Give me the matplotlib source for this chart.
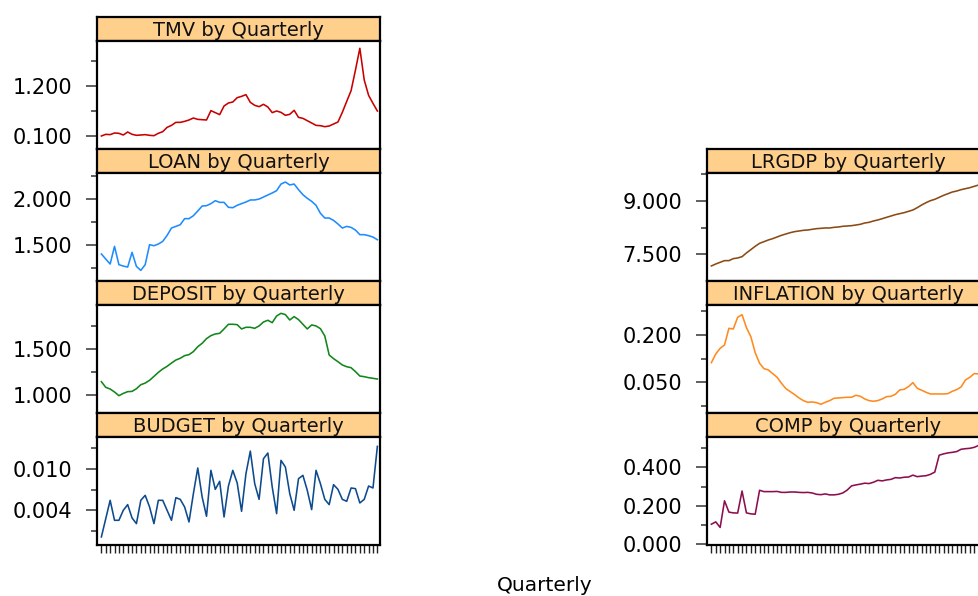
import matplotlib
matplotlib.use("Agg")
import matplotlib.pyplot as plt
import numpy as np

# ---- quarterly series (64 quarters) ----
quarters = np.arange(64)

tmv = [0.100, 0.137, 0.130, 0.166, 0.159, 0.122, 0.188, 0.137, 0.115, 0.122,
       0.130, 0.115, 0.107, 0.159, 0.195, 0.290, 0.334, 0.400, 0.400, 0.422,
       0.452, 0.496, 0.466, 0.459, 0.452, 0.658, 0.614, 0.570, 0.760, 0.826,
       0.848, 0.943, 0.972, 1.010, 0.840, 0.775, 0.745, 0.797, 0.738, 0.614,
       0.650, 0.620, 0.555, 0.577, 0.665, 0.510, 0.488, 0.437, 0.386, 0.334,
       0.327, 0.305, 0.320, 0.364, 0.408, 0.620, 0.862, 1.097, 1.552, 2.030,
       1.332, 0.994, 0.818, 0.650]

loan = [1.399, 1.344, 1.290, 1.482, 1.283, 1.268, 1.257, 1.417, 1.264, 1.221,
        1.283, 1.500, 1.489, 1.507, 1.536, 1.601, 1.681, 1.699, 1.717, 1.783,
        1.783, 1.815, 1.866, 1.920, 1.924, 1.946, 1.978, 1.960, 1.960, 1.906,
        1.902, 1.928, 1.946, 1.964, 1.986, 1.986, 1.996, 2.018, 2.040, 2.062,
        2.087, 2.159, 2.181, 2.149, 2.159, 2.098, 2.043, 2.004, 1.971, 1.928,
        1.841, 1.790, 1.790, 1.764, 1.725, 1.681, 1.699, 1.688, 1.659, 1.609,
        1.609, 1.598, 1.583, 1.554]

deposit = [1.146, 1.084, 1.066, 1.033, 0.993, 1.018, 1.037, 1.040, 1.069, 1.113,
           1.131, 1.161, 1.204, 1.248, 1.285, 1.314, 1.350, 1.383, 1.402, 1.431,
           1.442, 1.475, 1.529, 1.566, 1.617, 1.650, 1.668, 1.675, 1.723, 1.774,
           1.774, 1.770, 1.723, 1.741, 1.741, 1.730, 1.756, 1.799, 1.818, 1.792,
           1.865, 1.894, 1.880, 1.821, 1.858, 1.825, 1.774, 1.723, 1.767, 1.756,
           1.726, 1.646, 1.438, 1.398, 1.365, 1.329, 1.310, 1.299, 1.256, 1.208,
           1.201, 1.190, 1.183, 1.175]

budget = [0.00016, 0.00280, 0.00544, 0.00256, 0.00256, 0.00400, 0.00482, 0.00290,
          0.00208, 0.00544, 0.00616, 0.00448, 0.00208, 0.00544, 0.00544, 0.00400,
          0.00256, 0.00582, 0.00558, 0.00448, 0.00232, 0.00640, 0.01010, 0.00592,
          0.00314, 0.00976, 0.00702, 0.00818, 0.00304, 0.00750, 0.00976, 0.00794,
          0.00386, 0.00928, 0.01254, 0.00784, 0.00558, 0.01144, 0.01226, 0.00736,
          0.00352, 0.01120, 0.01024, 0.00640, 0.00400, 0.00856, 0.00904, 0.00688,
          0.00410, 0.00976, 0.00784, 0.00558, 0.00482, 0.00770, 0.00702, 0.00558,
          0.00530, 0.00722, 0.00712, 0.00506, 0.00558, 0.00750, 0.00722, 0.01322]

lrgdp = [7.172, 7.228, 7.275, 7.322, 7.322, 7.378, 7.397, 7.434, 7.538, 7.631,
         7.725, 7.809, 7.856, 7.903, 7.941, 7.988, 8.034, 8.072, 8.109, 8.138,
         8.156, 8.175, 8.184, 8.203, 8.222, 8.231, 8.241, 8.241, 8.259, 8.269,
         8.288, 8.297, 8.306, 8.325, 8.344, 8.381, 8.400, 8.438, 8.466, 8.503,
         8.541, 8.578, 8.616, 8.644, 8.672, 8.709, 8.747, 8.813, 8.888, 8.953,
         9.009, 9.047, 9.103, 9.159, 9.206, 9.253, 9.281, 9.319, 9.347, 9.375,
         9.413, 9.450, 9.478, 9.506]

inflation = [0.1123, 0.1398, 0.1577, 0.1683, 0.2211, 0.2190, 0.2559, 0.2644,
             0.2232, 0.1947, 0.1440, 0.1102, 0.0933, 0.0891, 0.0775, 0.0658,
             0.0468, 0.0300, 0.0204, 0.0109, 0.0004, -0.0081, -0.0134, -0.0123,
             -0.0144, -0.0197, -0.0134, -0.0081, -0.0007, 0.0004, 0.0014, 0.0025,
             0.0025, 0.0088, 0.0056, -0.0028, -0.0081, -0.0102, -0.0081, -0.0028,
             0.0046, 0.0056, 0.0120, 0.0257, 0.0278, 0.0363, 0.0490, 0.0310,
             0.0247, 0.0183, 0.0130, 0.0130, 0.0130, 0.0130, 0.0141, 0.0215,
             0.0268, 0.0352, 0.0574, 0.0658, 0.0775, 0.0764, 0.0750, 0.0720]

comp = [0.104, 0.116, 0.087, 0.226, 0.167, 0.163, 0.162, 0.277, 0.163, 0.158,
        0.156, 0.281, 0.274, 0.274, 0.274, 0.275, 0.270, 0.270, 0.272, 0.272,
        0.270, 0.269, 0.270, 0.267, 0.260, 0.258, 0.262, 0.257, 0.257, 0.260,
        0.267, 0.282, 0.304, 0.309, 0.313, 0.318, 0.316, 0.323, 0.333, 0.330,
        0.335, 0.338, 0.347, 0.345, 0.349, 0.350, 0.360, 0.352, 0.355, 0.357,
        0.364, 0.376, 0.464, 0.471, 0.476, 0.479, 0.483, 0.495, 0.498, 0.500,
        0.505, 0.515, 0.520, 0.525]

# ---- axis ticks per panel ----
tmv_major, tmv_minor = [0.1, 1.2], [0.65, 1.75]
loan_major, loan_minor = [1.5, 2.0], [1.25, 1.75, 2.25]
deposit_major, deposit_minor = [1.0, 1.5], [1.25, 1.75]
budget_major, budget_minor = [0.004, 0.010], [0.001, 0.007, 0.013]
lrgdp_major, lrgdp_minor = [7.5, 9.0], [8.25, 9.75]
inflation_major, inflation_minor = [0.05, 0.2], [-0.025, 0.125, 0.275]
comp_major, comp_minor = [0.0, 0.2, 0.4], [0.1, 0.3, 0.5]

panels = [
    # name, values, colour, column, row, ylim, major, minor
    ("TMV", tmv, "#C80000", 0, 0, (-0.175, 2.19), tmv_major, tmv_minor),
    ("LOAN", loan, "#1E8CFF", 0, 1, (1.111, 2.279), loan_major, loan_minor),
    ("DEPOSIT", deposit, "#12861A", 0, 2, (0.809, 1.985), deposit_major, deposit_minor),
    ("BUDGET", budget, "#0D4A8E", 0, 3, (-0.00093, 0.01457), budget_major, budget_minor),
    ("LRGDP", lrgdp, "#8B4A14", 1, 1, (6.763, 9.788), lrgdp_major, lrgdp_minor),
    ("INFLATION", inflation, "#FF8A1E", 1, 2, (-0.0458, 0.295), inflation_major, inflation_minor),
    ("COMP", comp, "#8B0F4E", 1, 3, (-0.002, 0.559), comp_major, comp_minor),
]

W, H = 979, 596
fig = plt.figure(figsize=(W / 100, H / 100), dpi=100)
fig.patch.set_facecolor("white")

col_left = [97, 707]
panel_w = 283
strip_h = 24
panel_h = 107.5
row_pitch = 132
first_strip_top = 17
strip_color = "#FFCF8C"


def px_axes(x0, top, w, h):
    return fig.add_axes([x0 / W, 1 - (top + h) / H, w / W, h / H])


for name, vals, color, col, row, ylim, major, minor in panels:
    x0 = col_left[col]
    strip_top = first_strip_top + row * row_pitch
    panel_top = strip_top + strip_h

    # strip with the panel title
    sax = px_axes(x0, strip_top, panel_w, strip_h)
    sax.set_facecolor(strip_color)
    sax.set_xticks([])
    sax.set_yticks([])
    for sp in sax.spines.values():
        sp.set_linewidth(1.6)
        sp.set_color("black")
    sax.text(0.5, 0.45, f"{name} by Quarterly", ha="center", va="center",
             fontsize=14, color="#111111", transform=sax.transAxes)

    # data panel
    ax = px_axes(x0, panel_top, panel_w, panel_h)
    ax.plot(quarters, vals, color=color, linewidth=1.15)
    ax.set_xlim(-1.0, 63.6)
    ax.set_ylim(*ylim)
    for sp in ax.spines.values():
        sp.set_linewidth(1.6)
        sp.set_color("black")

    ax.set_yticks(major)
    ax.set_yticklabels([f"{v:.3f}" for v in major])
    ax.set_yticks(minor, minor=True)
    ax.tick_params(axis="y", which="major", length=8, width=1.2, color="#444444",
                   pad=10, labelsize=15)
    ax.tick_params(axis="y", which="minor", length=4.5, width=1.2, color="#444444")

    if row == 3:
        ax.set_xticks(quarters)
        ax.set_xticklabels([])
        ax.tick_params(axis="x", length=6, width=1.0, color="#222222", direction="out")
    else:
        ax.set_xticks([])

fig.text(545 / W, 1 - 591 / H, "Quarterly", ha="center", va="baseline", fontsize=14.5)

fig.savefig("out.png", dpi=100)
